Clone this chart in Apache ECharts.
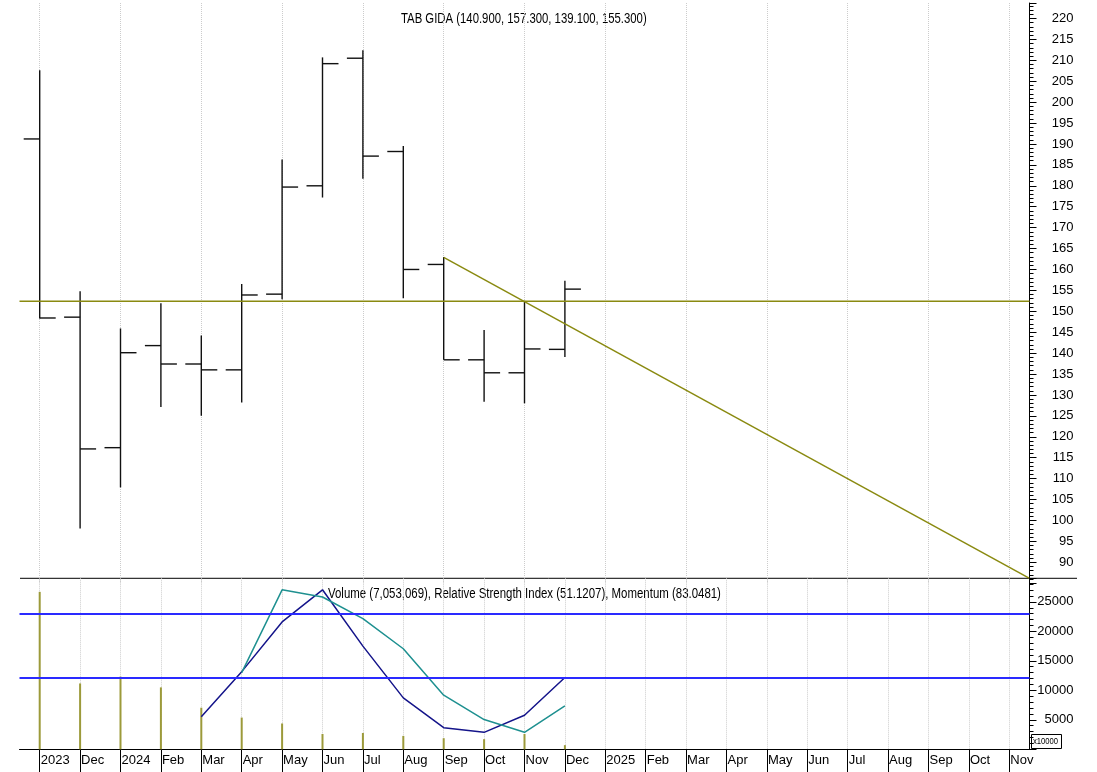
<!DOCTYPE html>
<html>
<head>
<meta charset="utf-8">
<title>TAB GIDA</title>
<script src="https://cdn.jsdelivr.net/npm/echarts@6/dist/echarts.min.js"></script>
<style>
  html, body { margin: 0; padding: 0; background: #fff; }
  #main { width: 1097px; height: 772px; }
</style>
</head>
<body>
<div id="main"></div>
<script>
// monthly bars, Nov 2023 .. Nov 2025 (only the first 14 have prices)
const months = ['2023-11', '2023-12', '2024-01', '2024-02', '2024-03', '2024-04', '2024-05', '2024-06',
  '2024-07', '2024-08', '2024-09', '2024-10', '2024-11', '2024-12', '2025-01', '2025-02', '2025-03',
  '2025-04', '2025-05', '2025-06', '2025-07', '2025-08', '2025-09', '2025-10', '2025-11'];
const tickLabels = ['2023', 'Dec', '2024', 'Feb', 'Mar', 'Apr', 'May', 'Jun', 'Jul', 'Aug', 'Sep', 'Oct', 'Nov',
  'Dec', '2025', 'Feb', 'Mar', 'Apr', 'May', 'Jun', 'Jul', 'Aug', 'Sep', 'Oct', 'Nov'];

const open  = [191.2, 148.6, 117.4, 141.8, 137.4, 136.0, 154.1, 180.0, 210.5, 188.2, 161.2, 138.4, 135.3, 140.9];
const high  = [207.6, 154.8, 145.9, 151.9, 144.2, 156.5, 186.3, 210.7, 212.4, 189.5, 163.0, 145.5, 152.5, 157.3];
const low   = [148.3,  98.1, 107.9, 127.1, 125.0, 128.2, 152.9, 177.2, 181.7, 153.1, 138.4, 128.4, 128.0, 139.1];
const close = [148.4, 117.1, 140.1, 137.4, 136.0, 153.9, 179.7, 209.2, 187.1, 160.0, 138.4, 135.3, 141.0, 155.3];

// lower panel, in the panel's x10000 units
const volume   = [26700, 11170, 12330, 10500, 7050, 5380, 4380, 2600, 2770, 2270, 1880, 1720, 2600, 705];
const rsi      = [null, null, null, null, 5500, 13170, 21600, 27050, 17500, 8720, 3670, 2880, 5770, 12170];
const momentum = [null, null, null, null, null, 13000, 27050, 25830, 22170, 17050, 9170, 5050, 2880, 7380];
const levels = [22930, 12050];

// drawn lines on the price panel: [month index, price]
const supportLine = [[-0.5, 152.4], [24.5, 152.4]];
const trendLine = [[10, 162.9], [24.49, 86.2]];

const FONT = "'Liberation Sans', Arial, sans-serif";

const ohlc = open.map((o, i) => [i, o, high[i], low[i], close[i]]);

function renderOhlc(params, api) {
  const i = api.value(0);
  const o = api.coord([i, api.value(1)]);
  const h = api.coord([i, api.value(2)]);
  const l = api.coord([i, api.value(3)]);
  const c = api.coord([i, api.value(4)]);
  const t = 16;
  const style = { stroke: '#111', lineWidth: 1.4 };
  return {
    type: 'group',
    children: [
      { type: 'line', shape: { x1: h[0], y1: h[1], x2: l[0], y2: l[1] }, style: style },
      { type: 'line', shape: { x1: o[0] - t, y1: o[1], x2: o[0], y2: o[1] }, style: style },
      { type: 'line', shape: { x1: c[0], y1: c[1], x2: c[0] + t, y2: c[1] }, style: style }
    ]
  };
}

const dotted = { show: true, alignWithLabel: true, lineStyle: { color: '#cccccc', type: 'dotted', width: 1 } };
const plain = v => String(v);

const chart = echarts.init(document.getElementById('main'));
chart.setOption({
  animation: false,
  backgroundColor: '#fff',
  textStyle: { fontFamily: FONT },
  grid: [
    { left: 19.5, width: 1010, top: 3, height: 580.2 },
    { left: 19.5, width: 1010, top: 578.3, height: 171 }
  ],
  xAxis: [
    {
      type: 'category', gridIndex: 0, data: months, boundaryGap: true,
      axisLine: { show: false }, axisTick: { show: false }, axisLabel: { show: false },
      splitLine: dotted
    },
    {
      type: 'category', gridIndex: 1, data: months, boundaryGap: true,
      axisLine: { show: true, lineStyle: { color: '#000', width: 1 } },
      axisTick: { show: true, alignWithLabel: true, length: 23, lineStyle: { color: '#000' } },
      axisLabel: {
        show: true, interval: 0, align: 'left', margin: 5, padding: [0, 0, 0, 1],
        fontSize: 13, color: '#000', fontFamily: FONT,
        formatter: (v, i) => tickLabels[i]
      },
      splitLine: dotted
    },
    { type: 'value', gridIndex: 0, min: -0.5, max: 24.5, show: false }
  ],
  yAxis: [
    {
      type: 'value', gridIndex: 0, position: 'right', min: 85, max: 223.7, interval: 5,
      axisLine: { show: true, onZero: false, lineStyle: { color: '#000' } },
      axisTick: { show: true, length: 7, lineStyle: { color: '#000' } },
      minorTick: { show: true, splitNumber: 5, length: 4, lineStyle: { color: '#000' } },
      axisLabel: {
        margin: 44, align: 'right', fontSize: 13, color: '#000', fontFamily: FONT,
        showMinLabel: false, showMaxLabel: false, formatter: plain
      },
      splitLine: { show: false }
    },
    {
      type: 'value', gridIndex: 1, position: 'right', min: 0, max: 29000, interval: 5000,
      axisLine: { show: true, onZero: false, lineStyle: { color: '#000' } },
      axisTick: { show: true, length: 7, lineStyle: { color: '#000' } },
      minorTick: { show: true, splitNumber: 5, length: 4, lineStyle: { color: '#000' } },
      axisLabel: {
        margin: 44, align: 'right', fontSize: 13, color: '#000', fontFamily: FONT,
        showMinLabel: false, showMaxLabel: false, formatter: plain
      },
      splitLine: { show: false }
    }
  ],
  series: [
    {
      name: 'TAB GIDA', type: 'custom', xAxisIndex: 0, yAxisIndex: 0,
      renderItem: renderOhlc, data: ohlc, encode: { x: 0, y: [1, 2, 3, 4] }
    },
    {
      name: 'support', type: 'line', xAxisIndex: 2, yAxisIndex: 0, data: supportLine,
      symbol: 'none', lineStyle: { color: '#8a8a10', width: 1.5 }
    },
    {
      name: 'trend', type: 'line', xAxisIndex: 2, yAxisIndex: 0, data: trendLine,
      symbol: 'none', lineStyle: { color: '#8a8a10', width: 1.5 }
    },
    {
      name: 'Volume', type: 'bar', xAxisIndex: 1, yAxisIndex: 1, data: volume,
      barWidth: 2, itemStyle: { color: '#9c9a3a' },
      markLine: {
        silent: true, symbol: 'none', label: { show: false },
        lineStyle: { color: '#2a2aff', width: 2, type: 'solid' },
        data: levels.map(v => ({ yAxis: v }))
      }
    },
    {
      name: 'Relative Strength Index', type: 'line', xAxisIndex: 1, yAxisIndex: 1, data: rsi,
      symbol: 'none', lineStyle: { color: '#14148a', width: 1.5 }
    },
    {
      name: 'Momentum', type: 'line', xAxisIndex: 1, yAxisIndex: 1, data: momentum,
      symbol: 'none', lineStyle: { color: '#1e9090', width: 1.5 }
    }
  ],
  graphic: [
    { type: 'line', shape: { x1: 20, y1: 578.3, x2: 1077, y2: 578.3 }, style: { stroke: '#000', lineWidth: 1 } },
    {
      type: 'text', x: 401, y: 12, scaleX: 0.81,
      style: { text: 'TAB GIDA (140.900, 157.300, 139.100, 155.300)', fontSize: 14, fill: '#000', fontFamily: FONT }
    },
    {
      type: 'text', x: 328, y: 587, scaleX: 0.817,
      style: { text: 'Volume (7,053,069), Relative Strength Index (51.1207), Momentum (83.0481)', fontSize: 14, fill: '#000', fontFamily: FONT }
    },
    { type: 'rect', shape: { x: 1031.5, y: 734.5, width: 30, height: 14 }, style: { fill: '#fff', stroke: '#000', lineWidth: 1 } },
    { type: 'text', x: 1033, y: 737, scaleX: 0.85, style: { text: 'x10000', fontSize: 9, fill: '#000', fontFamily: FONT } }
  ]
});
</script>
</body>
</html>
